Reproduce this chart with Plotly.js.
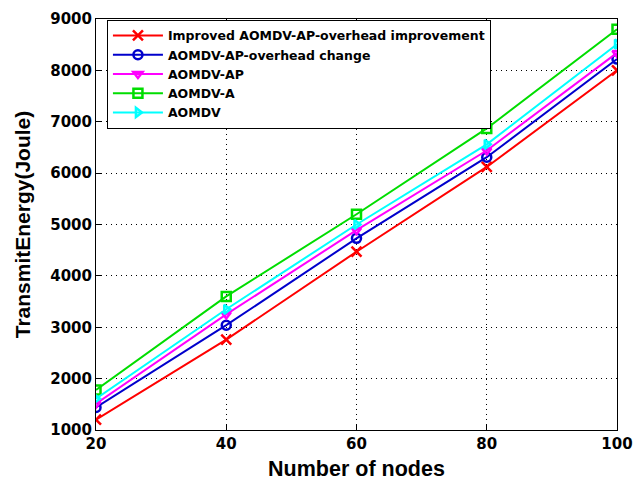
<!DOCTYPE html>
<html>
<head>
<meta charset="utf-8">
<script src="https://cdn.plot.ly/plotly-3.0.1.min.js"></script>
<style>html,body{margin:0;padding:0;background:#fff;}#chart{width:633px;height:486px;}</style>
</head>
<body>
<div id="chart"></div>
<script>
const nodes = [20, 40, 60, 80, 100];
const improvedOverhead = [1200, 2760, 4470, 6120, 8000];
const overheadChange = [1440, 3040, 4730, 6310, 8220];
const aomdvAP = [1510, 3250, 4890, 6440, 8340];
const aomdvA = [1780, 3600, 5200, 6870, 8800];
const aomdv = [1610, 3350, 5000, 6560, 8510];
const seriesNames = [
  "Improved AOMDV-AP-overhead improvement",
  "AOMDV-AP-overhead change",
  "AOMDV-AP",
  "AOMDV-A",
  "AOMDV"
];
const xTicks = [20, 40, 60, 80, 100];
const yTicks = [1000, 2000, 3000, 4000, 5000, 6000, 7000, 8000, 9000];

const styles = [
  {color: "#ff0000", symbol: "x-thin-open", size: 10},
  {color: "#0000cc", symbol: "circle-open", size: 9},
  {color: "#ff00ff", symbol: "triangle-down-open", size: 8},
  {color: "#00dd00", symbol: "square-open", size: 9},
  {color: "#00ffff", symbol: "triangle-right-open", size: 8}
];
const ys = [improvedOverhead, overheadChange, aomdvAP, aomdvA, aomdv];

const traces = ys.map((y, i) => ({
  x: nodes, y: y, name: seriesNames[i], type: "scatter", mode: "lines+markers",
  line: {color: styles[i].color, width: 2},
  marker: {symbol: styles[i].symbol, size: styles[i].size, color: styles[i].color,
           line: {color: styles[i].color, width: 2.5}}
}));

const font = "Liberation Sans, Arial, sans-serif";
const wide = "DejaVu Sans, sans-serif";
const layout = {
  width: 633, height: 486,
  margin: {l: 96, r: 16, t: 19, b: 56},
  paper_bgcolor: "#fff", plot_bgcolor: "#fff",
  showlegend: true,
  legend: {
    x: 0.021, y: 0.998, xanchor: "left", yanchor: "top",
    bgcolor: "#fff", bordercolor: "#000", borderwidth: 1,
    itemwidth: 50,
    font: {family: wide, size: 12.5, color: "#000", weight: "bold"},
    tracegroupgap: 0
  },
  xaxis: {
    range: [20, 100], tickvals: xTicks, ticktext: xTicks.map(String),
    showline: true, mirror: true, linecolor: "#000", linewidth: 1,
    ticks: "inside", ticklen: 5, tickcolor: "#000",
    showgrid: true, gridcolor: "#000", gridwidth: 1, griddash: "1px,4px",
    zeroline: false,
    tickfont: {family: wide, size: 15, color: "#000", weight: "bold"},
    title: {text: "Number of nodes", font: {family: font, size: 21.5, color: "#000", weight: "bold"}, standoff: 8}
  },
  yaxis: {
    range: [1000, 9000], tickvals: yTicks, ticktext: yTicks.map(String),
    showline: true, mirror: true, linecolor: "#000", linewidth: 1,
    ticks: "inside", ticklen: 5, tickcolor: "#000",
    showgrid: true, gridcolor: "#000", gridwidth: 1, griddash: "1px,4px",
    zeroline: false,
    tickfont: {family: wide, size: 15, color: "#000", weight: "bold"},
    title: {text: "TransmitEnergy(Joule)", font: {family: font, size: 21, color: "#000", weight: "bold"}, standoff: 13}
  }
};

Plotly.newPlot("chart", traces, layout, {displayModeBar: false, staticPlot: true});
</script>
</body>
</html>
